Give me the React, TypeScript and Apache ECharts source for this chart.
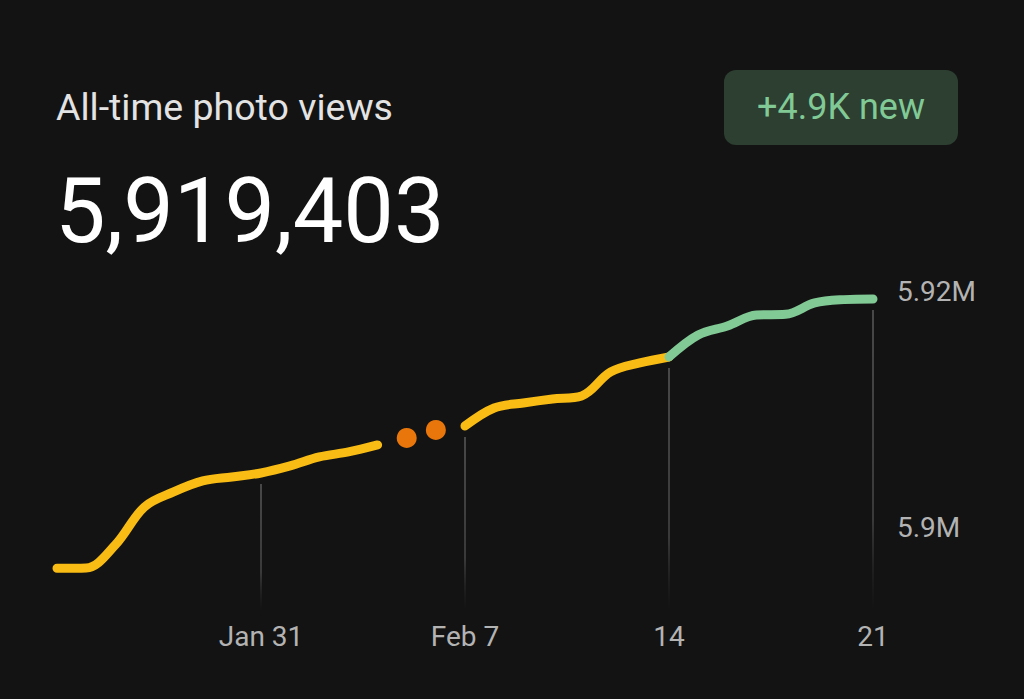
import React, { useEffect, useRef } from "react";
import * as echarts from "echarts";

const days = [
  "Jan 24", "Jan 25", "Jan 26", "Jan 27", "Jan 28", "Jan 29", "Jan 30", "Jan 31",
  "Feb 1", "Feb 2", "Feb 3", "Feb 4", "Feb 5", "Feb 6", "Feb 7",
  "Feb 8", "Feb 9", "Feb 10", "Feb 11", "Feb 12", "Feb 13", "Feb 14",
  "Feb 15", "Feb 16", "Feb 17", "Feb 18", "Feb 19", "Feb 20", "Feb 21",
];

// cumulative photo views (null = no data reported that day)
const views = [
  5896535, 5896560, 5898514, 5901741, 5903015, 5903949, 5904289, 5904629,
  5905223, 5905988, 5906412, 5907007, null, null, 5908620,
  5910149, 5910574, 5910914, 5911168, 5913207, 5913971, 5914481,
  5916349, 5917113, 5918048, 5918100, 5919067, 5919350, 5919403,
];

// estimated values for the days with missing data
const estimatedDays = ["Feb 5", "Feb 6"];
const estimatedViews = [5907601, 5908281];

const labelDays = ["Jan 31", "Feb 7", "Feb 14", "Feb 21"];
const labelTexts = ["Jan 31", "Feb 7", "14", "21"];

const yTickValues = [5900000, 5920000];
const yTickTexts = ["5.9M", "5.92M"];
const yMin = 5894000;
const yMax = 5921000;
const yStep = 1000;

const recentStartDay = "Feb 14";

const titleText = "All-time photo views";
const totalText = "5,919,403";
const badgeText = "+4.9K new";

const FONT = "Roboto, 'Noto Sans', sans-serif";

export default function App() {
  const ref = useRef<HTMLDivElement>(null);

  useEffect(() => {
    if (!ref.current) return;
    const chart = echarts.init(ref.current, undefined, { renderer: "svg" });

    const recentIdx = days.indexOf(recentStartDay);
    const olderViews = views.map((v, i) => (i <= recentIdx ? v : null));
    const recentViews = views.map((v, i) => (i >= recentIdx ? v : null));
    const gridData = labelDays.map((d) => [days.indexOf(d), views[days.indexOf(d)]]);

    chart.setOption({
      animation: false,
      backgroundColor: "#131313",
      grid: { left: 57, right: 151, top: 280.2, bottom: 100.9, containLabel: false },
      xAxis: {
        type: "category",
        data: days,
        boundaryGap: false,
        axisLine: { show: false },
        axisTick: { show: false },
        splitLine: { show: false },
        axisLabel: {
          interval: 0,
          formatter: (v: string) => {
            const i = labelDays.indexOf(v);
            return i >= 0 ? labelTexts[i] : "";
          },
          color: "#b3b3b3",
          fontFamily: FONT,
          fontSize: 28,
          lineHeight: 28,
          margin: 24,
        },
      },
      yAxis: {
        type: "value",
        position: "right",
        min: yMin,
        max: yMax,
        interval: yStep,
        axisLine: { show: false },
        axisTick: { show: false },
        splitLine: { show: false },
        axisLabel: {
          formatter: (v: number) => {
            const i = yTickValues.indexOf(Math.round(v));
            return i >= 0 ? yTickTexts[i] : "";
          },
          color: "#b3b3b3",
          fontFamily: FONT,
          fontSize: 28,
          margin: 24,
        },
      },
      series: [
        {
          type: "custom",
          coordinateSystem: "cartesian2d",
          z: 1,
          data: gridData,
          renderItem: (params: any, api: any) => {
            const p = api.coord([api.value(0), api.value(1)]);
            const bottom = api.coord([api.value(0), yMin])[1] + 12;
            const top = p[1] + 11;
            return {
              type: "rect",
              shape: { x: p[0] - 1, y: top, width: 2, height: bottom - top },
              style: {
                fill: new echarts.graphic.LinearGradient(0, 0, 0, 1, [
                  { offset: 0, color: "rgba(72,72,72,1)" },
                  { offset: 0.7, color: "rgba(62,62,62,0.9)" },
                  { offset: 1, color: "rgba(40,40,40,0)" },
                ]),
              },
            };
          },
        },
        {
          type: "line",
          z: 3,
          data: olderViews,
          smooth: 0.35,
          connectNulls: false,
          showSymbol: false,
          symbol: "none",
          lineStyle: { width: 9, cap: "round", join: "round", color: "#f9bc15" },
        },
        {
          type: "line",
          z: 3,
          data: recentViews,
          smooth: 0.35,
          connectNulls: false,
          showSymbol: false,
          symbol: "none",
          lineStyle: { width: 9, cap: "round", join: "round", color: "#81c995" },
        },
        {
          type: "scatter",
          z: 4,
          data: estimatedDays.map((d, i) => [days.indexOf(d), estimatedViews[i]]),
          symbol: "circle",
          symbolSize: 20,
          itemStyle: { color: "#e8760a", opacity: 1 },
        },
      ],
      graphic: [
        {
          type: "text",
          style: {
            text: titleText,
            x: 56,
            y: 107,
            fill: "#e3e3e3",
            font: `400 37.5px ${FONT}`,
            textAlign: "left",
            textVerticalAlign: "middle",
          },
        },
        {
          type: "text",
          style: {
            text: totalText,
            x: 55,
            y: 211,
            fill: "#ffffff",
            font: `400 90px ${FONT}`,
            textAlign: "left",
            textVerticalAlign: "middle",
          },
        },
        {
          type: "rect",
          shape: { x: 724, y: 70, width: 234, height: 75, r: 12 },
          style: { fill: "#2c3f31" },
        },
        {
          type: "text",
          style: {
            text: badgeText,
            x: 841,
            y: 107,
            fill: "#81c995",
            font: `400 36px ${FONT}`,
            textAlign: "center",
            textVerticalAlign: "middle",
          },
        },
      ],
    });

    return () => chart.dispose();
  }, []);

  return (
    <div
      ref={ref}
      style={{ position: "absolute", left: 0, top: 0, width: 1024, height: 699 }}
    />
  );
}
